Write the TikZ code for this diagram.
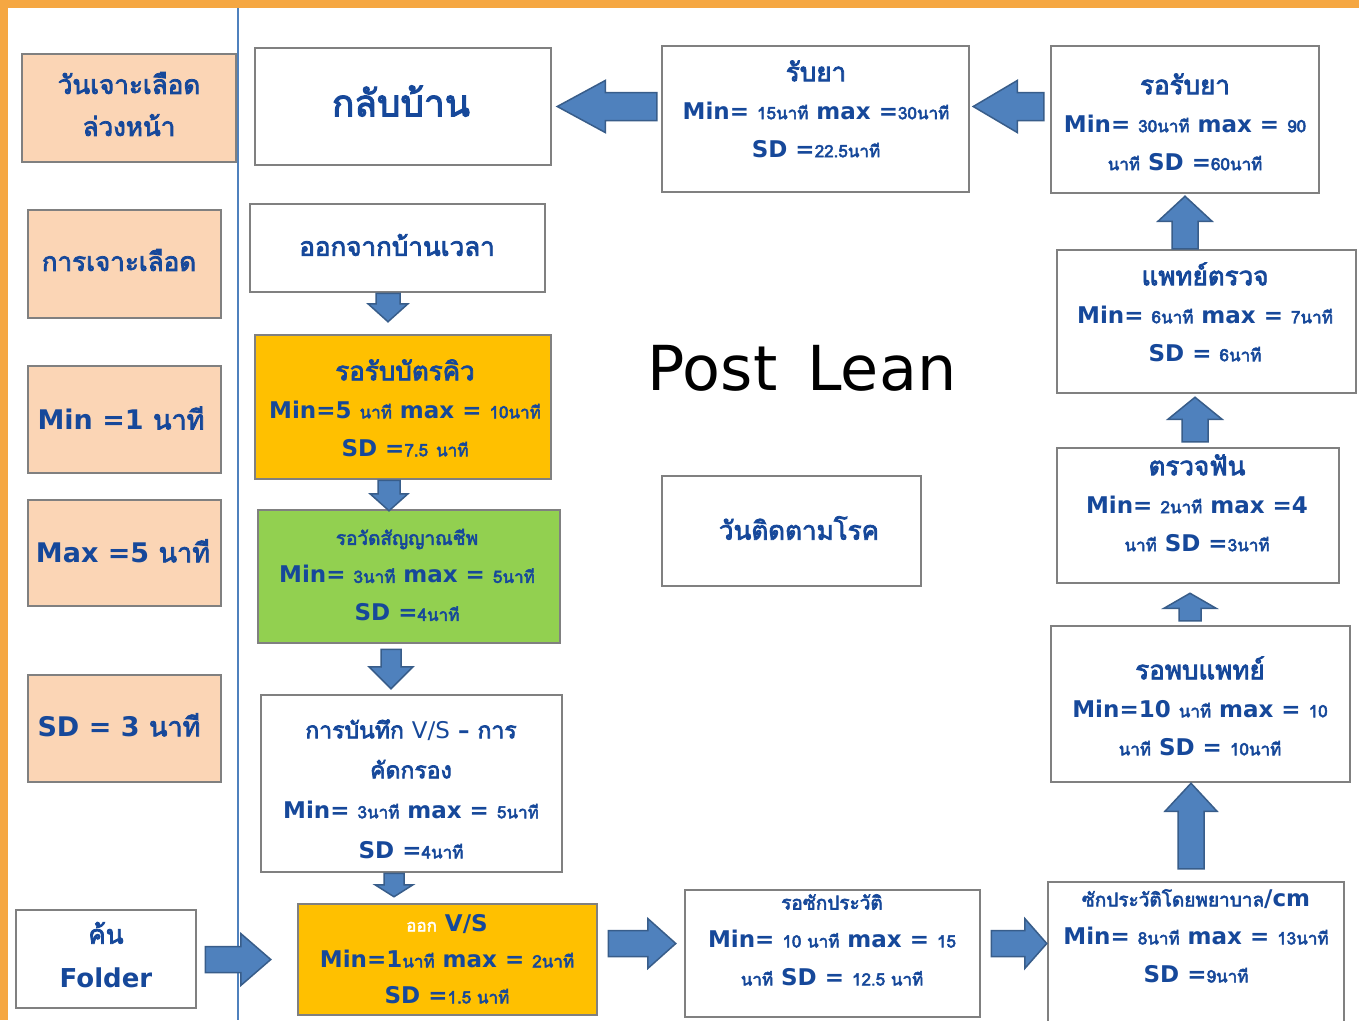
\documentclass[tikz,border=0pt]{standalone}
\usepackage{fontspec}
\setmainfont{DejaVu Sans}
\newfontfamily\thai[Script=Thai, FakeBold=2.5, BoldFont={Loma}, BoldFeatures={FakeBold=3}]{Loma}
\usetikzlibrary{calc}
\definecolor{orangeb}{HTML}{F5A742}
\definecolor{vline}{HTML}{4F81BD}
\definecolor{boxgray}{HTML}{808080}
\definecolor{peach}{HTML}{FBD5B5}
\definecolor{gold}{HTML}{FFC000}
\definecolor{lgreen}{HTML}{92D050}
\definecolor{arrfill}{HTML}{4F81BD}
\definecolor{arrline}{HTML}{385D8A}
\definecolor{txtblue}{HTML}{16489A}
\newcommand\T[1]{{\thai #1}}
\newcommand\ts[1]{{\thai\fontsize{17}{17}\selectfont #1}}
\newcommand\barrow[5]{%
  \coordinate (barrowb) at ($(#2)!#5!(#1)$);
  \filldraw[arrowstyle] ($(#1)!#3!90:(#2)$) -- ($(barrowb)!#3!90:(#2)$) -- ($(barrowb)!#4!90:(#2)$) -- (#2)
    -- ($(barrowb)!#4!-90:(#2)$) -- ($(barrowb)!#3!-90:(#2)$) -- ($(#1)!#3!-90:(#2)$) -- cycle;}
\tikzset{
  box/.style={draw=boxgray, line width=2.5pt, fill=white, inner sep=0pt},
  pbox/.style={box, fill=peach},
  txt/.style={text=txtblue, font=\bfseries\fontsize{23}{38}\selectfont, align=center, inner sep=0pt},
  hd/.style={font=\bfseries\fontsize{26}{42}\selectfont},
  arrowstyle/.style={fill=arrfill, draw=arrline, line width=1.5pt, line join=miter}
}
\begin{document}
\begin{tikzpicture}[x=1pt,y=-1pt]
\useasboundingbox (0,0) rectangle (1359,1020);
\fill[white] (0,0) rectangle (1359,1020);
\fill[orangeb] (0,0) rectangle (8,1020);
\fill[orangeb] (0,0) rectangle (1359,8);
\draw[vline, line width=2pt] (238,8) -- (238,1020);

% left legend column
\node[pbox, minimum width=214pt, minimum height=108pt] (L1) at (129,108) {};
\node[txt, hd] (L1T) at (129,104) {\T{วันเจาะเลือด}\\\T{ล่วงหน้า}};
\node[pbox, minimum width=193pt, minimum height=108pt] (L2) at (124.5,264) {};
\node[txt, hd] (L2T) at (119,260) {\T{การเจาะเลือด}};
\node[pbox, minimum width=193pt, minimum height=107pt] (L3) at (124.5,419.5) {};
\node[txt, font=\bfseries\fontsize{27}{30}\selectfont] (L3T) at (121,418) {Min =1 \T{นาที}};
\node[pbox, minimum width=193pt, minimum height=106pt] (L4) at (124.5,553) {};
\node[txt, font=\bfseries\fontsize{27}{30}\selectfont] (L4T) at (123,551) {Max =5 \T{นาที}};
\node[pbox, minimum width=193pt, minimum height=107pt] (L5) at (124.5,728.5) {};
\node[txt, font=\bfseries\fontsize{27}{30}\selectfont] (L5T) at (119,725) {SD = 3 \T{นาที}};
\node[box, minimum width=180pt, minimum height=98pt] (F) at (106,959) {};
\node[txt, font=\bfseries\fontsize{26}{44}\selectfont] (FT) at (106,955) {\T{ค้น}\\Folder};

% middle column
\node[box, minimum width=296pt, minimum height=117pt] (home) at (403,106.5) {};
\node[txt, font=\bfseries\fontsize{37}{40}\selectfont] (homeT) at (401,101) {\T{กลับบ้าน}};
\node[box, minimum width=295pt, minimum height=88pt] (leave) at (397.5,248) {};
\node[txt, hd] (leaveT) at (397,245) {\T{ออกจากบ้านเวลา}};
\node[box, fill=gold, minimum width=296pt, minimum height=144pt] (queue) at (403,407) {};
\node[txt] (queueT) at (405,408) {\T{\fontsize{26}{26}\selectfont รอรับบัตรคิว}\\Min=5 \ts{นาที} max = \ts{10นาที}\\SD =\ts{7.5} \ts{นาที}};
\node[box, fill=lgreen, minimum width=302pt, minimum height=133pt] (vs1) at (409,576.5) {};
\node[txt] (vs1T) at (407,575) {\T{\fontsize{19}{19}\selectfont รอวัดสัญญาณชีพ}\\Min= \ts{3นาที} max = \ts{5นาที}\\SD =\ts{4นาที}};
\node[box, minimum width=301pt, minimum height=177pt] (rec) at (411.5,783.5) {};
\node[txt, font=\bfseries\fontsize{23}{40}\selectfont] (recT) at (411,789) {\T{การบันทึก} {\mdseries V/S} – \T{การ}\\\T{คัดกรอง}\\Min= \ts{3นาที} max = \ts{5นาที}\\SD =\ts{4นาที}};
\node[box, fill=gold, minimum width=299pt, minimum height=111pt] (vsout) at (447.5,959.5) {};
\node[txt, font=\bfseries\fontsize{23}{36}\selectfont] (vsoutT) at (447,959) {{\color{white}\ts{ออก}} V/S\\Min=1\ts{นาที} max = \ts{2นาที}\\SD =\ts{1.5 นาที}};

% centre
\node[box, minimum width=307pt, minimum height=146pt] (med) at (815.5,119) {};
\node[txt] (medT) at (816,109) {\T{\fontsize{26}{26}\selectfont รับยา}\\Min= \ts{15นาที} max =\ts{30นาที}\\SD =\ts{22.5นาที}};
\node[font=\fontsize{62}{62}\selectfont, inner sep=0pt] (title) at (802,368) {Post\hspace{30pt}Lean};
\node[box, minimum width=259pt, minimum height=110pt] (follow) at (791.5,531) {};
\node[txt, hd] (followT) at (799,528) {\T{วันติดตามโรค}};
\node[box, minimum width=295pt, minimum height=127pt] (whist) at (832.5,953.5) {};
\node[txt] (whistT) at (832,940) {\T{\fontsize{19}{19}\selectfont รอซักประวัติ}\\Min= \ts{10 นาที} max = \ts{15}\\\ts{นาที} SD = \ts{12.5 นาที}};

% right column
\node[box, minimum width=268pt, minimum height=147pt] (wmed) at (1185,119.5) {};
\node[txt] (wmedT) at (1185,122) {\T{\fontsize{26}{26}\selectfont รอรับยา}\\Min= \ts{30นาที} max = \ts{90}\\\ts{นาที} SD =\ts{60นาที}};
\node[box, minimum width=299pt, minimum height=143pt] (doc) at (1206.5,321.5) {};
\node[txt] (docT) at (1205,312) {\T{\fontsize{26}{26}\selectfont แพทย์ตรวจ}\\Min= \ts{6นาที} max = \ts{7นาที}\\SD = \ts{6นาที}};
\node[box, minimum width=282pt, minimum height=135pt] (dent) at (1198,515.5) {};
\node[txt] (dentT) at (1197,503) {\T{\fontsize{26}{26}\selectfont ตรวจฟัน}\\Min= \ts{2นาที} max =4\\\ts{นาที} SD =\ts{3นาที}};
\node[box, minimum width=299pt, minimum height=156pt] (wdoc) at (1200.5,704) {};
\node[txt] (wdocT) at (1200,706) {\T{\fontsize{26}{26}\selectfont รอพบแพทย์}\\Min=10 \ts{นาที} max = \ts{10}\\\ts{นาที} SD = \ts{10นาที}};
\node[box, minimum width=296pt, minimum height=142pt] (hist) at (1196,953) {};
\node[txt] (histT) at (1196,936) {\T{\fontsize{19}{19}\selectfont ซักประวัติโดยพยาบาล}/cm\\Min= \ts{8นาที} max = \ts{13นาที}\\SD =\ts{9นาที}};

% arrows
\coordinate (a1s) at ([xshift=-4pt]med.west |- home.east);
\coordinate (a1t) at ([xshift=5pt]home.east);
\barrow{a1s}{a1t}{14pt}{26pt}{48pt}
\coordinate (a2s) at ([xshift=-6pt]wmed.west |- home.east);
\coordinate (a2t) at ([xshift=3pt]med.east |- home.east);
\barrow{a2s}{a2t}{14pt}{26pt}{44pt}
\coordinate (a3s) at ([xshift=-9.5pt]leave.south);
\coordinate (a3t) at ([yshift=12pt]a3s |- queue.north);
\barrow{a3s}{a3t}{12pt}{20pt}{18pt}
\coordinate (a4s) at ([xshift=-14pt]queue.south);
\coordinate (a4t) at ([yshift=-2pt]a4s |- vs1.north);
\barrow{a4s}{a4t}{11pt}{19pt}{17pt}
\coordinate (a5s) at ([xshift=-18pt,yshift=-5pt]vs1.south);
\coordinate (a5t) at ([yshift=5pt]a5s |- rec.north);
\barrow{a5s}{a5t}{10pt}{22pt}{22pt}
\coordinate (a6s) at ([xshift=-17.5pt]rec.south);
\coordinate (a6t) at ([yshift=6pt]a6s |- vsout.north);
\barrow{a6s}{a6t}{10pt}{19pt}{12pt}
\coordinate (a7s) at ([xshift=8pt]F.east |- vsout.west);
\coordinate (a7t) at ([xshift=-26pt]vsout.west);
\barrow{a7s}{a7t}{13pt}{26pt}{30pt}
\coordinate (a8s) at ([xshift=10pt,yshift=16pt]vsout.east);
\coordinate (a8t) at ([xshift=-8pt]a8s -| whist.west);
\barrow{a8s}{a8t}{13pt}{25pt}{28pt}
\coordinate (a9s) at ([xshift=10pt]whist.east |- a8s);
\coordinate (a9t) at (a9s -| hist.west);
\barrow{a9s}{a9t}{13pt}{25pt}{22pt}
\coordinate (a10s) at ([xshift=-5pt,yshift=12pt]hist.north);
\coordinate (a10t) at (a10s |- wdoc.south);
\barrow{a10s}{a10t}{13pt}{26pt}{28pt}
\coordinate (a11s) at ([xshift=-10.5pt,yshift=4pt]wdoc.north);
\coordinate (a11t) at ([yshift=-9pt]a11s |- dent.south);
\barrow{a11s}{a11t}{11pt}{26pt}{15pt}
\coordinate (a12s) at ([xshift=-3pt,yshift=5pt]dent.north);
\coordinate (a12t) at ([yshift=-3pt]a12s |- doc.south);
\barrow{a12s}{a12t}{13pt}{27pt}{22pt}
\coordinate (a13s) at ([xshift=-21.5pt]doc.north);
\coordinate (a13t) at ([yshift=-2pt]a13s |- wmed.south);
\barrow{a13s}{a13t}{13pt}{27pt}{25pt}
\end{tikzpicture}
\end{document}
